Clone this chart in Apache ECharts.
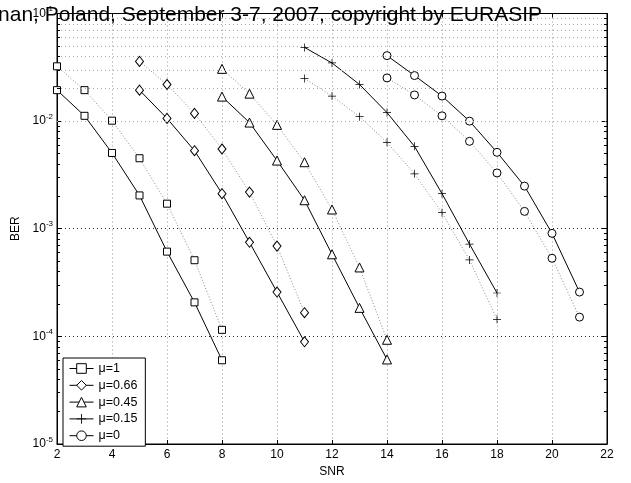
<!DOCTYPE html>
<html><head><meta charset="utf-8">
<script src="https://cdn.jsdelivr.net/npm/echarts@6/dist/echarts.min.js"></script>
<style>html,body{margin:0;padding:0;background:#fff}#c{width:631px;height:483px}</style>
</head><body><div id="c"></div>
<script>
// ---- data ----
const names = ['μ=1', 'μ=0.66', 'μ=0.45', 'μ=0.15', 'μ=0'];
const snrMu1 = [2, 3, 4, 5, 6, 7, 8];
const snrMu066 = [5, 6, 7, 8, 9, 10, 11];
const snrMu045 = [8, 9, 10, 11, 12, 13, 14];
const snrMu015 = [11, 12, 13, 14, 15, 16, 17, 18];
const snrMu0 = [14, 15, 16, 17, 18, 19, 20, 21];
const berMu1Solid = [0.0194, 0.0112, 0.00506, 0.00204, 0.000613, 0.000207, 0.000060];
const berMu1Dotted = [0.0323, 0.0194, 0.0101, 0.00452, 0.00171, 0.00051, 0.000115];
const berMu066Solid = [0.0194, 0.0106, 0.00531, 0.00212, 0.000748, 0.000258, 0.000089];
const berMu066Dotted = [0.0359, 0.0219, 0.0118, 0.00551, 0.00219, 0.00069, 0.000166];
const berMu045Solid = [0.0169, 0.0097, 0.0043, 0.00184, 0.000579, 0.000184, 0.000061];
const berMu045Dotted = [0.0306, 0.0180, 0.00923, 0.00415, 0.00151, 0.000437, 0.000093];
const berMu015Solid = [0.0484, 0.0347, 0.0219, 0.0120, 0.00583, 0.00212, 0.00072, 0.000253];
const berMu015Dotted = [0.0249, 0.0171, 0.0110, 0.00635, 0.00324, 0.00141, 0.000513, 0.000144];
const berMu0Solid = [0.0406, 0.0265, 0.0171, 0.0100, 0.00513, 0.00249, 0.000906, 0.000258];
const berMu0Dotted = [0.0252, 0.0175, 0.0112, 0.00649, 0.0033, 0.00145, 0.000532, 0.000151];
const xTicks = [2, 4, 6, 8, 10, 12, 14, 16, 18, 20, 22];
const yDecades = [1e-5, 1e-4, 1e-3, 1e-2, 1e-1];
const headerText = '15th European Signal Processing Conference (EUSIPCO 2007), Poznan, Poland, September 3-7, 2007, copyright by EURASIP';

// ---- build ----
const plusPath = 'path://M4.55,0h0.9v10h-0.9z M0,4.55h10v0.9h-10z';
const symbols = ['rect', 'diamond', 'triangle', plusPath, 'circle'];
const sizes = [7, [8, 10], 9, 8, 8];
const xs = [snrMu1, snrMu066, snrMu045, snrMu015, snrMu0];
const solid = [berMu1Solid, berMu066Solid, berMu045Solid, berMu015Solid, berMu0Solid];
const dotted = [berMu1Dotted, berMu066Dotted, berMu045Dotted, berMu015Dotted, berMu0Dotted];
const pair = (x, y) => x.map((v, i) => [v, y[i]]);
const markStyle = i => i === 3
  ? { color: '#000', borderWidth: 0 }
  : { color: '#fff', borderColor: '#000', borderWidth: 1 };

const xMin = xTicks[0], xMax = xTicks[xTicks.length - 1];
const minorLines = [], minorTicks = [];
const tickLen = (xMax - xMin) * 3 / 550;
for (let d = -5; d < -1; d++) for (let m = 2; m <= 9; m++) {
  const v = m * Math.pow(10, d);
  minorLines.push({ yAxis: v });
  minorTicks.push([{ coord: [xMin, v] }, { coord: [xMin + tickLen, v] }]);
  minorTicks.push([{ coord: [xMax - tickLen, v] }, { coord: [xMax, v] }]);
}

const series = [];
series.push({
  type: 'line', name: '_grid', data: [], silent: true,
  markLine: { silent: true, symbol: 'none', label: { show: false },
    lineStyle: { color: '#aaa', type: [1, 3], width: 1 }, data: minorLines, animation: false }
});
series.push({
  type: 'line', name: '_ticks', data: [], silent: true,
  markLine: { silent: true, symbol: 'none', label: { show: false },
    lineStyle: { color: '#000', type: 'solid', width: 1 }, data: minorTicks, animation: false }
});
for (let i = 0; i < 5; i++) {
  series.push({
    type: 'line', name: names[i] + ' ', data: pair(xs[i], dotted[i]),
    symbol: symbols[i], symbolSize: sizes[i], z: 3,
    itemStyle: markStyle(i),
    lineStyle: { color: '#888', width: 1, type: [1, 2] }, animation: false
  });
  series.push({
    type: 'line', name: names[i], data: pair(xs[i], solid[i]),
    symbol: symbols[i], symbolSize: sizes[i], z: 4,
    itemStyle: markStyle(i),
    lineStyle: { color: '#000', width: 1 }, animation: false
  });
}

const font = 'Liberation Sans, Arial, Helvetica, sans-serif';
const chart = echarts.init(document.getElementById('c'), null, { renderer: 'canvas' });
chart.setOption({
  backgroundColor: '#fff',
  animation: false,
  textStyle: { fontFamily: font },
  grid: { left: 57, right: 24, top: 13.5, bottom: 36, show: true, borderColor: '#000', borderWidth: 1, backgroundColor: 'transparent' },
  xAxis: [{
    type: 'value', min: xMin, max: xMax, interval: 2,
    name: 'SNR', nameLocation: 'middle', nameGap: 22,
    nameTextStyle: { color: '#000', fontSize: 12, fontFamily: font },
    axisLine: { lineStyle: { color: '#000' } },
    axisTick: { inside: true, length: 4, lineStyle: { color: '#000' } },
    axisLabel: { color: '#000', fontSize: 12, fontFamily: font, margin: 5 },
    splitLine: { show: true, lineStyle: { color: '#999', type: [1, 3], width: 1 } }
  }, {
    type: 'value', min: xMin, max: xMax, interval: 2, position: 'top',
    axisLine: { lineStyle: { color: '#000' } },
    axisTick: { inside: true, length: 4, lineStyle: { color: '#000' } },
    axisLabel: { show: false }, splitLine: { show: false }
  }],
  yAxis: [{
    type: 'log', logBase: 10, min: yDecades[0], max: yDecades[yDecades.length - 1],
    name: 'BER', nameLocation: 'middle', nameGap: 32,
    nameTextStyle: { color: '#000', fontSize: 12, fontFamily: font },
    axisLine: { lineStyle: { color: '#000' } },
    axisTick: { inside: true, length: 5, lineStyle: { color: '#000' } },
    axisLabel: {
      color: '#000', margin: 4,
      formatter: v => '{b|10}{s|' + Math.round(Math.log10(v)) + '}',
      rich: { b: { fontSize: 12, fontFamily: font, color: '#000' },
              s: { fontSize: 8, fontFamily: font, color: '#000', verticalAlign: 'bottom', padding: [0, 0, 9, 0] } }
    },
    splitLine: { show: true, lineStyle: { color: '#222', type: [1, 3], width: 1 } }
  }, {
    type: 'log', logBase: 10, min: yDecades[0], max: yDecades[yDecades.length - 1], position: 'right',
    axisLine: { lineStyle: { color: '#000' } },
    axisTick: { inside: true, length: 5, lineStyle: { color: '#000' } },
    axisLabel: { show: false }, splitLine: { show: false }
  }],
  legend: {
    data: names, orient: 'vertical', left: 63, top: 358,
    itemWidth: 24, itemHeight: 12, itemGap: 3.8,
    borderColor: '#000', borderWidth: 1, backgroundColor: '#fff', borderRadius: 0,
    padding: [4, 8, 4, 6],
    itemStyle: { borderWidth: 1 },
    lineStyle: { width: 1 },
    textStyle: { color: '#000', fontSize: 12.5, fontFamily: font },
    selectedMode: false
  },
  graphic: [{
    type: 'text', z: 100, silent: true,
    style: { text: headerText, x: 542, y: 15, textAlign: 'right', textVerticalAlign: 'middle',
      font: '21px ' + font, fill: '#000' }
  }],
  series: series
});
</script>
</body></html>
